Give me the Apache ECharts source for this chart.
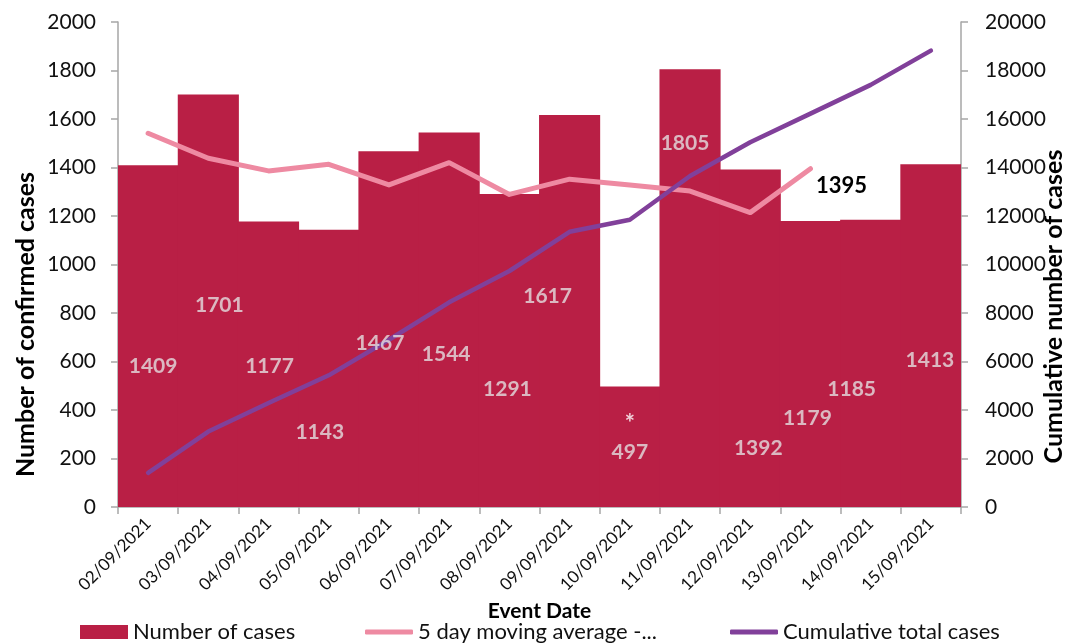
<!DOCTYPE html>
<html>
<head>
<meta charset="utf-8">
<script src="https://cdn.jsdelivr.net/npm/echarts@6/dist/echarts.min.js"></script>
<style>
  html, body { margin: 0; padding: 0; background: #fff; }
  #main { width: 1071px; height: 644px; }
</style>
</head>
<body>
<div id="main"></div>
<script>
// data
const dates = ['02/09/2021', '03/09/2021', '04/09/2021', '05/09/2021', '06/09/2021', '07/09/2021', '08/09/2021',
    '09/09/2021', '10/09/2021', '11/09/2021', '12/09/2021', '13/09/2021', '14/09/2021', '15/09/2021'];
const cases = [1409, 1701, 1177, 1143, 1467, 1544, 1291, 1617, 497, 1805, 1392, 1179, 1185, 1413];
const movingAvg = [1541, 1438, 1386, 1413, 1328, 1420, 1289, 1352, 1328, 1303, 1214, 1395, null, null];
const cumulative = [1409, 3110, 4287, 5430, 6897, 8441, 9732, 11349, 11846, 13651, 15043, 16222, 17407, 18820];
// where the bar value labels sit (left axis units), as in the original
const labelHeights = [581, 833, 581, 309, 676, 631, 487, 870, 285, 1501, 243, 367, 487, 606];
const labelShiftX = [5, 11, 1, -9, -9, -3, -2, -22, 0, -5, 8, -3, -19, -1];

const FONT = 'Lato';
const axisGrey = '#A6A6A6';
const barColor = '#B91F45';
const pinkColor = '#EE8AA2';
const purpleColor = '#81409A';

let myChart;
function draw() {
    let labelPoints = labelHeights.map(function (h, i) {
        return { value: [i, h], label: { offset: [labelShiftX[i], 0] } };
    });

    let avgData = movingAvg.map(function (v, i) {
        if (i === 11) {
            return {
                value: v,
                label: {
                    show: true, position: 'right', distance: 5, offset: [0, 17],
                    formatter: '{c}', color: '#000', fontFamily: FONT, fontWeight: 'bold', fontSize: 22
                }
            };
        }
        return v;
    });

    let legendText = { color: '#111', fontFamily: FONT, fontSize: 22 };
    let plain = function (v) { return String(v); };

    let option = {
        backgroundColor: '#fff',
        animation: false,
        grid: { left: 118, right: 110, top: 22, bottom: 137, containLabel: false, outerBoundsMode: 'none' },
        legend: [
            { left: 75, top: 616, itemWidth: 48, itemHeight: 14, itemGap: 0, textStyle: legendText,
              data: [{ name: 'Number of cases', icon: 'rect' }] },
            { left: 360, top: 616, itemWidth: 48, itemHeight: 5, textStyle: legendText,
              data: [{ name: '5 day moving average -...', icon: 'roundRect' }] },
            { left: 725, top: 616, itemWidth: 48, itemHeight: 5, textStyle: legendText,
              data: [{ name: 'Cumulative total cases', icon: 'roundRect' }] }
        ],
        xAxis: {
            type: 'category',
            data: dates,
            boundaryGap: true,
            name: 'Event Date',
            nameLocation: 'middle',
            nameGap: 91,
            nameTextStyle: { color: '#000', fontFamily: FONT, fontWeight: 'bold', fontSize: 21 },
            axisLine: { show: true, lineStyle: { color: axisGrey, width: 1.5 } },
            axisTick: { show: true, interval: 0, length: 7, lineStyle: { color: axisGrey, width: 1.5 } },
            axisLabel: { interval: 0, rotate: 45, margin: 14, color: '#111', fontFamily: FONT, fontSize: 17 },
            splitLine: { show: false }
        },
        yAxis: [
            {
                type: 'value',
                min: 0, max: 2000, interval: 200,
                name: 'Number of confirmed cases',
                nameLocation: 'middle',
                nameRotate: 90,
                nameGap: 80,
                nameMoveOverlap: false,
                // pushed a little below the middle, as in the original
                nameTextStyle: { color: '#000', fontFamily: FONT, fontWeight: 'bold', fontSize: 25, padding: [0, 120, 0, 0] },
                axisLine: { show: true, lineStyle: { color: axisGrey, width: 1.5 } },
                axisTick: { show: true, length: 7, lineStyle: { color: axisGrey, width: 1.5 } },
                axisLabel: { margin: 22, color: '#111', fontFamily: FONT, fontSize: 21, formatter: plain },
                splitLine: { show: false }
            },
            {
                type: 'value',
                min: 0, max: 20000, interval: 2000,
                position: 'right',
                name: 'Cumulative number of cases',
                nameLocation: 'middle',
                nameRotate: 90,
                nameGap: 80,
                nameMoveOverlap: false,
                nameTextStyle: { color: '#000', fontFamily: FONT, fontWeight: 'bold', fontSize: 25, padding: [0, 84, 0, 0] },
                axisLine: { show: true, lineStyle: { color: axisGrey, width: 1.5 } },
                axisTick: { show: true, length: 7, lineStyle: { color: axisGrey, width: 1.5 } },
                axisLabel: { margin: 24, color: '#111', fontFamily: FONT, fontSize: 21, formatter: plain },
                splitLine: { show: false }
            }
        ],
        series: [
            {
                name: 'Number of cases',
                type: 'bar',
                data: cases,
                barCategoryGap: '0%',
                barWidth: '101.5%',
                itemStyle: { color: barColor },
                z: 2
            },
            {
                name: '5 day moving average -...',
                type: 'line',
                data: avgData,
                symbol: 'circle',
                symbolSize: 1,
                showSymbol: true,
                itemStyle: { color: pinkColor },
                lineStyle: { color: pinkColor, width: 5, cap: 'round', join: 'round' },
                z: 3
            },
            {
                name: 'Cumulative total cases',
                type: 'line',
                yAxisIndex: 1,
                data: cumulative,
                symbol: 'none',
                itemStyle: { color: purpleColor },
                lineStyle: { color: purpleColor, width: 4.5, cap: 'round', join: 'round' },
                z: 4
            },
            {
                // value labels of the bars
                name: 'labels',
                type: 'scatter',
                data: labelPoints,
                symbolSize: 0,
                silent: true,
                z: 5,
                label: {
                    show: true,
                    position: 'inside',
                    color: '#E4DEE0',
                    fontFamily: FONT,
                    fontWeight: 'bold',
                    fontSize: 21,
                    formatter: function (p) {
                        if (p.dataIndex === 8) {
                            return '{s|*}\n{v|' + cases[8] + '}';
                        }
                        return String(cases[p.dataIndex]);
                    },
                    rich: {
                        s: { color: '#fff', fontFamily: FONT, fontWeight: 'bold', fontSize: 24, lineHeight: 28 },
                        v: { color: '#E4DEE0', fontFamily: FONT, fontWeight: 'bold', fontSize: 21, lineHeight: 28 }
                    }
                }
            }
        ]
    };

    myChart = echarts.init(document.getElementById('main'));
    myChart.setOption(option);

    window.addEventListener('resize', function () {
        myChart.resize();
    }, false);
}

draw();
</script>
</body>
</html>
